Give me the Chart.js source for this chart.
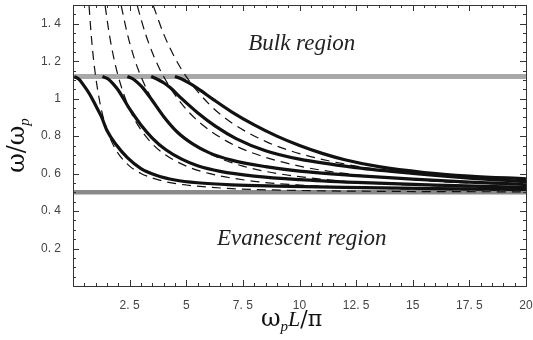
<!DOCTYPE html>
<html>
<head>
<meta charset="utf-8">
<script src="https://cdn.jsdelivr.net/npm/chart.js@4"></script>
<style>
  body { margin: 0; background: #fff; }
</style>
</head>
<body>
<canvas id="chart" width="533" height="340"></canvas>
<script>
// solid curves (omega / omega_p against omega_p L / pi)
const solid1X = [0.05, 0.25, 0.45, 0.73, 0.95, 1.25, 1.5, 1.9, 2.4, 3.0, 3.7, 4.5, 5.5, 7, 9, 12, 16, 20];
const solid1Y = [1.118, 1.105, 1.075, 1.025, 0.975, 0.905, 0.83, 0.755, 0.685, 0.627, 0.59, 0.566, 0.551, 0.54, 0.533, 0.526, 0.52, 0.515];
const solid2X = [1.3, 1.55, 1.8, 2.0, 2.5, 3.0, 3.5, 4.1, 4.8, 5.5, 6.5, 8, 10, 12.5, 16, 20];
const solid2Y = [1.118, 1.105, 1.075, 1.045, 0.945, 0.86, 0.79, 0.727, 0.677, 0.642, 0.612, 0.587, 0.568, 0.553, 0.538, 0.527];
const solid3X = [2.4, 2.65, 2.9, 3.1, 3.5, 4.0, 4.6, 5.3, 6, 7, 8.5, 10, 12.5, 15, 17.5, 20];
const solid3Y = [1.118, 1.105, 1.08, 1.055, 0.99, 0.905, 0.822, 0.757, 0.712, 0.672, 0.637, 0.613, 0.589, 0.57, 0.555, 0.542];
const solid4X = [3.45, 3.7, 4.0, 4.3, 4.8, 5.5, 6.3, 7.2, 8.5, 10, 12.5, 15, 17.5, 20];
const solid4Y = [1.118, 1.105, 1.085, 1.058, 1.0, 0.925, 0.852, 0.787, 0.722, 0.677, 0.632, 0.601, 0.576, 0.557];
const solid5X = [4.5, 4.8, 5.1, 5.5, 6.2, 7, 8, 9, 10, 11, 12, 13.5, 15.5, 17.5, 20];
const solid5Y = [1.118, 1.105, 1.085, 1.055, 0.995, 0.93, 0.86, 0.8, 0.75, 0.708, 0.674, 0.637, 0.606, 0.587, 0.572];

// dashed curves
const dash1X = [0.71, 0.8, 0.9, 1.0, 1.2, 1.4, 1.7, 2.0, 2.5, 3, 4, 5, 7, 10, 14, 20];
const dash1Y = [1.495, 1.346, 1.218, 1.118, 0.972, 0.872, 0.772, 0.707, 0.64, 0.601, 0.559, 0.539, 0.52, 0.51, 0.505, 0.5025];
const dash2X = [1.42, 1.6, 1.8, 2.0, 2.4, 2.8, 3.4, 4.0, 5.0, 6, 8, 10, 14, 20];
const dash2Y = [1.495, 1.346, 1.218, 1.118, 0.972, 0.872, 0.772, 0.707, 0.64, 0.601, 0.559, 0.539, 0.52, 0.51];
const dash3X = [2.13, 2.4, 2.7, 3.0, 3.6, 4.2, 5.1, 6.0, 7.5, 9, 12, 15, 20];
const dash3Y = [1.495, 1.346, 1.218, 1.118, 0.972, 0.872, 0.772, 0.707, 0.64, 0.601, 0.559, 0.539, 0.522];
const dash4X = [2.84, 3.2, 3.6, 4.0, 4.8, 5.6, 6.8, 8.0, 10, 12, 16, 20];
const dash4Y = [1.495, 1.346, 1.218, 1.118, 0.972, 0.872, 0.772, 0.707, 0.64, 0.601, 0.559, 0.539];
const dash5X = [3.55, 4.0, 4.5, 5.0, 6.0, 7.0, 8.5, 10, 12.5, 15, 20];
const dash5Y = [1.495, 1.346, 1.218, 1.118, 0.972, 0.872, 0.772, 0.707, 0.64, 0.601, 0.559];

// region boundaries
const bulkEdge = 1.118;
const evanescentEdge = 0.5;

const xTicks = [2.5, 5, 7.5, 10, 12.5, 15, 17.5, 20];
const xTickLabels = ['2. 5', '5', '7. 5', '10', '12. 5', '15', '17. 5', '20'];
const yTicks = [0.2, 0.4, 0.6, 0.8, 1, 1.2, 1.4];
const yTickLabels = ['0. 2', '0. 4', '0. 6', '0. 8', '1', '1. 2', '1. 4'];

const pts = (xs, ys) => xs.map((x, i) => ({ x: x, y: ys[i] }));

const solid = (xs, ys) => ({
    data: pts(xs, ys),
    borderColor: '#111',
    borderWidth: 3.2,
    cubicInterpolationMode: 'monotone',
    pointRadius: 0,
    order: 0
});
const dashed = (xs, ys) => ({
    data: pts(xs, ys),
    borderColor: '#111',
    borderWidth: 1.2,
    borderDash: [9, 6],
    cubicInterpolationMode: 'monotone',
    pointRadius: 0,
    order: 1
});
const edge = (v, color, w) => ({
    data: [{ x: 0, y: v }, { x: 20, y: v }],
    borderColor: color,
    borderWidth: w,
    pointRadius: 0,
    order: 2
});

function drawParts(ctx, parts, cx, cy) {
    let w = 0;
    parts.forEach(p => { ctx.font = p.font; p.w = ctx.measureText(p.t).width; w += p.w; });
    let x = cx - w / 2;
    parts.forEach(p => {
        ctx.font = p.font;
        ctx.fillText(p.t, x, cy + (p.dy || 0));
        x += p.w;
    });
}

const frame = {
    id: 'frame',
    afterDatasetsDraw(chart) {
        const { ctx, chartArea: a, scales: { x, y } } = chart;
        ctx.save();
        ctx.strokeStyle = '#333';
        ctx.lineWidth = 1;
        ctx.strokeRect(Math.round(a.left) + 0.5, Math.round(a.top) + 0.5,
            Math.round(a.right - a.left), Math.round(a.bottom - a.top));
        ctx.beginPath();
        for (let i = 0; i <= 40; i++) {
            const v = i * 0.5;
            const px = Math.round(x.getPixelForValue(v)) + 0.5;
            const len = i % 5 === 0 ? 6 : 3;
            ctx.moveTo(px, a.bottom); ctx.lineTo(px, a.bottom - len);
            ctx.moveTo(px, a.top); ctx.lineTo(px, a.top + len);
        }
        for (let i = 0; i <= 30; i++) {
            const v = i * 0.05;
            const py = Math.round(y.getPixelForValue(v)) + 0.5;
            const len = i % 4 === 0 ? 6 : 3;
            ctx.moveTo(a.left, py); ctx.lineTo(a.left + len, py);
            ctx.moveTo(a.right, py); ctx.lineTo(a.right - len, py);
        }
        ctx.stroke();

        // region names
        ctx.fillStyle = '#222';
        ctx.textAlign = 'center';
        ctx.textBaseline = 'middle';
        ctx.font = 'italic 23px "Liberation Serif"';
        ctx.fillText('Bulk region', x.getPixelForValue(10.1), y.getPixelForValue(1.29));
        ctx.fillText('Evanescent region', x.getPixelForValue(10.1), y.getPixelForValue(0.253));

        // axis titles
        ctx.fillStyle = '#111';
        ctx.textAlign = 'left';
        ctx.textBaseline = 'alphabetic';
        drawParts(ctx, [
            { t: 'ω', font: '24px "DejaVu Serif"' },
            { t: 'p', font: 'italic 15px "Liberation Serif"', dy: 5 },
            { t: 'L', font: 'italic 22px "Liberation Serif"' },
            { t: '/π', font: '22px "DejaVu Serif"' }
        ], (a.left + a.right) / 2 - 8, a.bottom + 40);

        ctx.translate(a.left - 55, (a.top + a.bottom) / 2);
        ctx.rotate(-Math.PI / 2);
        drawParts(ctx, [
            { t: 'ω/ω', font: '24px "DejaVu Serif"' },
            { t: 'p', font: 'italic 15px "Liberation Serif"', dy: 5 }
        ], 0, 6);
        ctx.restore();
    }
};

const config = {
    type: 'line',
    data: {
        datasets: [
            solid(solid1X, solid1Y), solid(solid2X, solid2Y), solid(solid3X, solid3Y),
            solid(solid4X, solid4Y), solid(solid5X, solid5Y),
            dashed(dash1X, dash1Y), dashed(dash2X, dash2Y), dashed(dash3X, dash3Y),
            dashed(dash4X, dash4Y), dashed(dash5X, dash5Y),
            edge(bulkEdge, '#a8a8a8', 5),
            edge(evanescentEdge, '#8a8a8a', 4.5)
        ]
    },
    options: {
        responsive: false,
        animation: false,
        layout: { padding: { top: 5, right: 7, left: 0, bottom: 0 } },
        plugins: { legend: { display: false }, tooltip: { enabled: false } },
        scales: {
            x: {
                type: 'linear',
                min: 0,
                max: 20,
                grid: { display: false },
                border: { display: false },
                afterBuildTicks: s => { s.ticks = xTicks.map(v => ({ value: v })); },
                afterFit: s => { s.height = 54; s.paddingLeft = 0; s.paddingRight = 0; },
                ticks: {
                    autoSkip: false,
                    maxRotation: 0,
                    padding: 4,
                    color: '#444',
                    font: { family: '"Liberation Sans"', size: 12 },
                    callback: (v, i) => xTickLabels[i]
                }
            },
            y: {
                min: 0,
                max: 1.5,
                grid: { display: false },
                border: { display: false },
                afterBuildTicks: s => { s.ticks = yTicks.map(v => ({ value: v })); },
                afterFit: s => { s.width = 73; s.paddingTop = 0; s.paddingBottom = 0; },
                ticks: {
                    autoSkip: false,
                    padding: 4,
                    color: '#444',
                    font: { family: '"Liberation Sans"', size: 12 },
                    callback: (v, i) => yTickLabels[i]
                }
            }
        }
    },
    plugins: [frame]
};

new Chart(document.getElementById('chart'), config);
</script>
</body>
</html>
